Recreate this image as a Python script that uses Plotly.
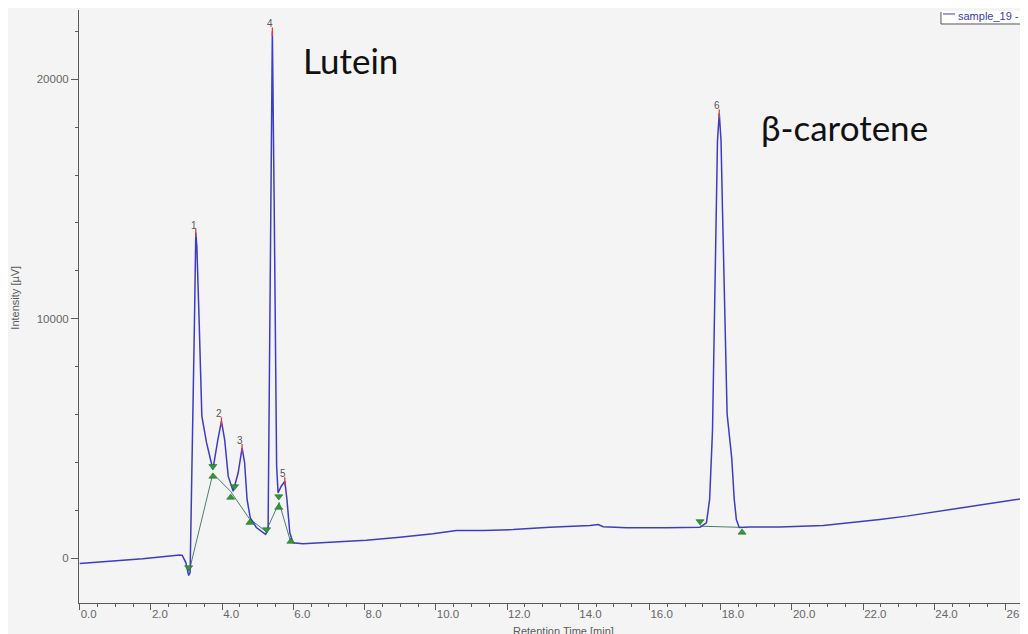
import plotly.graph_objects as go

# ---------------- data ----------------
time_min = [0.00, 0.84, 1.77, 2.81, 2.88, 2.98, 3.06, 3.10, 3.18, 3.22, 3.26, 3.29,
            3.35, 3.39, 3.43, 3.56, 3.74, 3.88, 3.98, 4.07, 4.17, 4.31, 4.45, 4.56,
            4.63, 4.70, 4.79, 4.96, 5.22, 5.29, 5.34, 5.41, 5.46, 5.51, 5.53, 5.57,
            5.66, 5.76, 5.82, 5.90, 5.99, 6.27, 7.12, 8.05, 8.99, 9.92, 10.58, 11.33,
            12.17, 13.20, 14.33, 14.56, 14.70, 15.36, 16.48, 17.32, 17.42, 17.60, 17.69,
            17.77, 17.82, 17.86, 17.91, 17.96, 18.01, 18.05, 18.12, 18.18, 18.31, 18.38,
            18.44, 18.52, 18.82, 19.66, 20.88, 21.63, 22.47, 23.22, 24.16, 25.09, 26.03,
            26.63]
intensity_uv = [-230, -130, -35, 130, 110, -190, -730, -600, 5500, 9680, 13600, 13000,
                10100, 7460, 5930, 4830, 3700, 4950, 5720, 4950, 3420, 2790, 3560, 4600,
                3990, 2445, 1680, 1275, 985, 1190, 10800, 22010, 14980, 6630, 3840, 2725,
                3000, 3210, 2445, 1055, 635, 595, 660, 745, 870, 1010, 1150, 1150,
                1190, 1290, 1360, 1400, 1305, 1260, 1260, 1260, 1290, 1470, 2460,
                5320, 9600, 13880, 17440, 18580, 17440, 14590, 9600, 6030, 4175, 2460,
                1610, 1280, 1300, 1300, 1360, 1470, 1610, 1750, 1960, 2165, 2350,
                2515]

# integration baselines (None separates segments)
base_t = [3.08, 3.74, 4.24, 4.76, 5.23, 5.60, 5.92, None, 17.42, 18.60]
base_y = [-520, 3530, 2780, 1650, 1110, 2320, 690, None, 1330, 1280]

# peak start (down-triangle) and end (up-triangle) markers
start_t = [3.06, 3.74, 4.35, 5.25, 5.59, 17.42]
start_y = [-400, 3830, 2990, 1190, 2570, 1530]
end_t = [3.74, 4.24, 4.78, 5.59, 5.93, 18.60]
end_y = [3410, 2530, 1480, 2110, 690, 1070]

# peak apexes and labels
peak_num = ["1", "2", "3", "4", "5", "6"]
peak_rt = [3.26, 3.98, 4.56, 5.41, 5.76, 17.96]
peak_h = [13600, 5720, 4600, 22010, 3210, 18580]

compound_names = ["Lutein", "β-carotene"]
compound_x = [7.6, 21.49]
compound_y = [20800, 18000]

x_title = "Retention Time [min]"
y_title = "Intensity [µV]"
legend_name = "sample_19 - Channel 1"

# ---------------- figure ----------------
BLUE = "#3c3cc4"
GREY = "#5a5a5a"
BG = "#f4f4f4"
fig = go.Figure()

fig.add_trace(go.Scatter(x=base_t, y=base_y, mode="lines",
                         line=dict(color="#4e7d6a", width=1), hoverinfo="skip"))
fig.add_trace(go.Scatter(x=time_min, y=intensity_uv, mode="lines",
                         line=dict(color=BLUE, width=1.5), name=legend_name))

# red apex marks
apex_x, apex_y = [], []
for t, h in zip(peak_rt, peak_h):
    apex_x += [t, t, None]
    apex_y += [h - 200, h + 160, None]
fig.add_trace(go.Scatter(x=apex_x, y=apex_y, mode="lines",
                         line=dict(color="#e0403a", width=1.3), hoverinfo="skip"))

fig.add_trace(go.Scatter(x=start_t, y=start_y, mode="markers",
                         marker=dict(symbol="triangle-down", size=7, color="#2f9a3a",
                                     line=dict(color="#1d6e27", width=0.6))))
fig.add_trace(go.Scatter(x=end_t, y=end_y, mode="markers",
                         marker=dict(symbol="triangle-up", size=7, color="#2f9a3a",
                                     line=dict(color="#1d6e27", width=0.6))))

for n, t, h in zip(peak_num, peak_rt, peak_h):
    fig.add_annotation(x=t, y=h, text=n, showarrow=False, xanchor="center",
                       yanchor="bottom", xshift=-2, yshift=0,
                       font=dict(family="Liberation Sans", size=10, color="#555555"))

for name, cx, cy in zip(compound_names, compound_x, compound_y):
    fig.add_annotation(x=cx, y=cy, text=name, showarrow=False, xanchor="center",
                       yanchor="middle",
                       font=dict(family="Lato", size=35, color="#111111"))

# axis titles
fig.add_annotation(xref="paper", yref="paper", x=0.511, y=-0.047, text=x_title,
                   showarrow=False, xanchor="center", yanchor="middle",
                   font=dict(family="Liberation Sans", size=11, color=GREY))
fig.add_annotation(xref="paper", yref="paper", x=-0.0674, y=0.515, text=y_title,
                   textangle=-90, showarrow=False, xanchor="center", yanchor="middle",
                   font=dict(family="Liberation Sans", size=11, color=GREY))

# legend box (cut off at right edge as in the reference)
fig.add_shape(type="rect", xref="paper", yref="paper", x0=0.9083, x1=1.02,
              y0=0.9764, y1=0.9983, fillcolor="white", line=dict(width=0), layer="above")
fig.add_shape(type="line", xref="paper", yref="paper", x0=0.9083, x1=0.9083,
              y0=0.9764, y1=0.9966, line=dict(color="#555555", width=1), layer="above")
fig.add_shape(type="line", xref="paper", yref="paper", x0=0.9083, x1=1.02,
              y0=0.9764, y1=0.9764, line=dict(color="#555555", width=1), layer="above")
fig.add_shape(type="line", xref="paper", yref="paper", x0=0.9104, x1=0.9231,
              y0=0.9933, y1=0.9933, line=dict(color=BLUE, width=1), layer="above")
fig.add_annotation(xref="paper", yref="paper", x=0.9241, y=0.9905, text=legend_name,
                   showarrow=False, xanchor="left", yanchor="middle",
                   font=dict(family="Liberation Sans", size=11, color="#3a3aa8"))

fig.update_layout(
    width=1028, height=634,
    margin=dict(l=71, r=8, t=2, b=39),
    paper_bgcolor=BG, plot_bgcolor=BG,
    showlegend=False,
    xaxis=dict(range=[-0.02, 26.63], tickmode="linear", tick0=0, dtick=2,
               tickformat=".1f", ticks="outside", ticklen=6, tickcolor=GREY,
               showline=True, linecolor=GREY, linewidth=1, showgrid=False,
               zeroline=False, ticklabelposition="outside right",
               tickfont=dict(family="Liberation Sans", size=11.5, color="#666666"),
               minor=dict(dtick=0.5, tick0=0, ticks="outside", ticklen=3,
                          tickcolor=GREY, showgrid=False)),
    yaxis=dict(range=[-1880, 22900], tickmode="linear", tick0=0, dtick=10000,
               tickformat="d", ticks="outside", ticklen=7, tickcolor=GREY,
               showline=True, linecolor=GREY, linewidth=1, showgrid=False,
               zeroline=False,
               tickfont=dict(family="Liberation Sans", size=11.5, color="#666666"),
               minor=dict(dtick=2000, tick0=0, ticks="outside", ticklen=3,
                          tickcolor=GREY, showgrid=False)),
)

fig.write_html("out.html")
